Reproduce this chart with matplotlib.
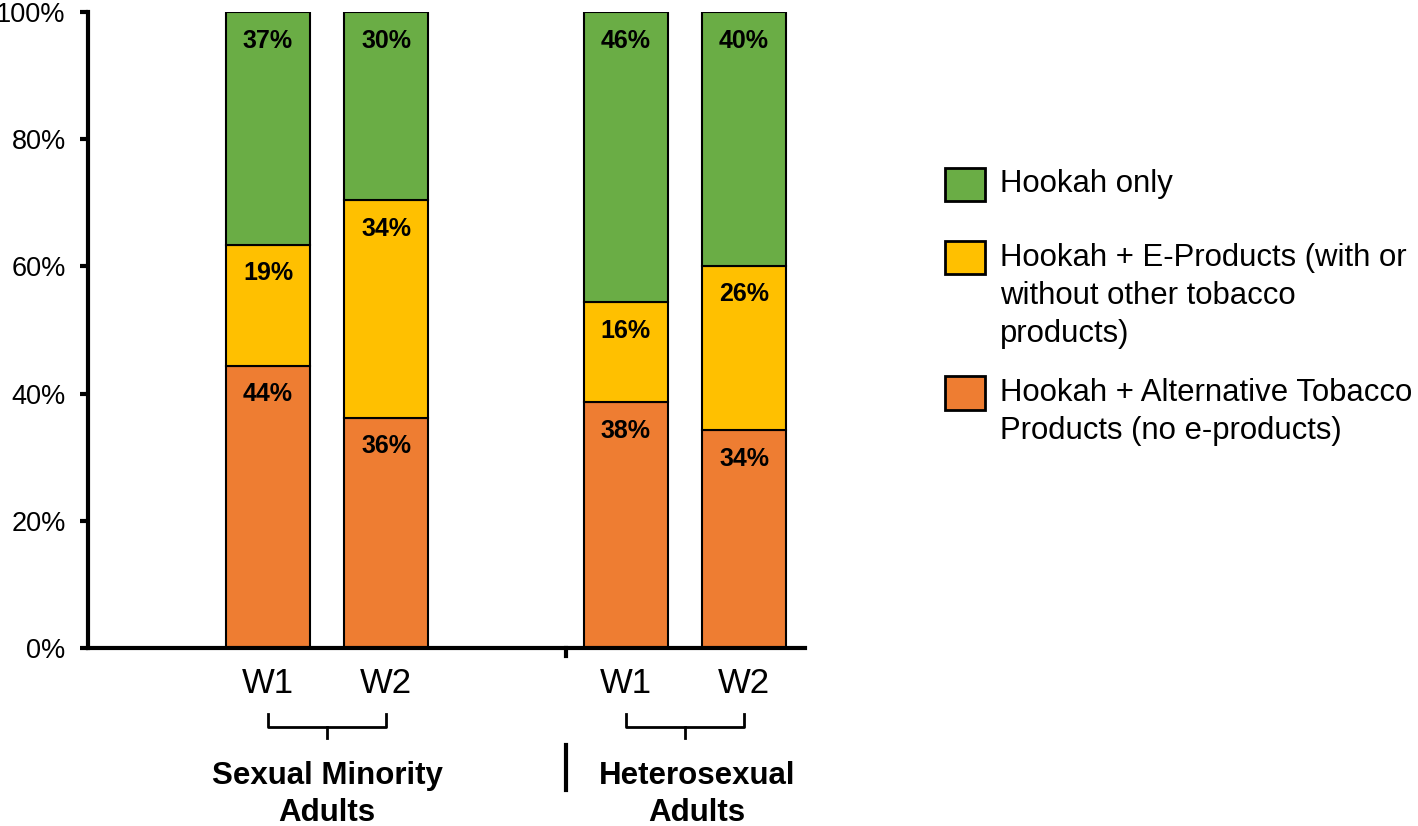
import numpy as np
import matplotlib
matplotlib.use('Agg')
import matplotlib.pyplot as plt
from matplotlib.patches import Rectangle
import matplotlib.transforms as mtransforms

plt.rcParams['font.family'] = ['Liberation Sans', 'DejaVu Sans']

# -----------------------------------------------------------------------
# Data (percent of hookah users, stacked bottom -> top)
# -----------------------------------------------------------------------
waves        = ["W1", "W2", "W1", "W2"]
groups       = ["Sexual Minority\nAdults", "Heterosexual\nAdults"]
alt_tobacco  = [44.4, 36.2, 38.6, 34.2]   # Hookah + Alternative Tobacco Products
e_products   = [19.0, 34.2, 15.8, 25.9]   # Hookah + E-Products
hookah_only  = [36.6, 29.6, 45.6, 39.9]   # Hookah only

alt_labels    = ["44%", "36%", "38%", "34%"]
eprod_labels  = ["19%", "34%", "16%", "26%"]
only_labels   = ["37%", "30%", "46%", "40%"]

legend_lines = [
    ["Hookah only"],
    ["Hookah + E-Products (with or", "without other tobacco", "products)"],
    ["Hookah + Alternative Tobacco", "Products (no e-products)"],
]

GREEN  = "#6AAD45"
YELLOW = "#FFC000"
ORANGE = "#EE7D32"

# -----------------------------------------------------------------------
# Plot
# -----------------------------------------------------------------------
fig = plt.figure(figsize=(14.18, 8.26), dpi=100)
ax = fig.add_axes([0.062, 0.2155, 0.506, 0.77])

x = np.array([0, 1, 3.03, 4.03])
width = 0.71

series = [(alt_tobacco, ORANGE, alt_labels),
          (e_products, YELLOW, eprod_labels),
          (hookah_only, GREEN, only_labels)]

bottom = np.zeros(len(x))
for vals, col, labs in series:
    vals = np.array(vals)
    ax.bar(x, vals, width, bottom=bottom, color=col,
           edgecolor="black", linewidth=1.5, zorder=2)
    for xi, b, v, lab in zip(x, bottom, vals, labs):
        ax.text(xi, b + v - 4.5, lab, ha="center", va="center",
                fontsize=18, fontweight="bold", color="black", zorder=3)
    bottom += vals

ax.set_xlim(-1.525, 4.55)
ax.set_ylim(0, 100)
ax.set_yticks(np.arange(0, 101, 20))
ax.set_yticklabels([f"{v}%" for v in range(0, 101, 20)], fontsize=19.5)
ax.set_xticks(x)
ax.set_xticklabels(waves, fontsize=25)
ax.tick_params(axis="x", length=0, pad=14)
ax.tick_params(axis="y", length=6, width=3, pad=10)

for side in ["top", "right"]:
    ax.spines[side].set_visible(False)
ax.spines["left"].set_linewidth(3)
ax.spines["bottom"].set_linewidth(3)

trans = mtransforms.blended_transform_factory(ax.transData, ax.transAxes)

# small tick on x-axis between groups
sep = 2.52
ax.plot([sep, sep], [0, -0.012], color="black", lw=3,
        transform=trans, clip_on=False)

# brackets under the wave labels
for g in range(2):
    x0, x1 = x[2 * g], x[2 * g + 1]
    mid = (x0 + x1) / 2
    ax.plot([x0, x0, x1, x1], [-0.104, -0.124, -0.124, -0.104],
            color="black", lw=2, transform=trans, clip_on=False)
    ax.plot([mid, mid], [-0.124, -0.1415], color="black", lw=2,
            transform=trans, clip_on=False)

# separator between group names
ax.plot([sep, sep], [-0.1525, -0.223], color="black", lw=3,
        transform=trans, clip_on=False)

group_x = [(x[0] + x[1]) / 2, (x[2] + x[3]) / 2 + 0.1]
for gx, name in zip(group_x, groups):
    ax.text(gx, -0.231, name, ha="center", va="center", fontsize=22.5,
            fontweight="bold", linespacing=1.3, transform=trans)

# -----------------------------------------------------------------------
# Legend (drawn by hand so the swatch lines up with the first text line)
# -----------------------------------------------------------------------
colors = [GREEN, YELLOW, ORANGE]
first_line_y = [0.777, 0.6877, 0.5242]
line_step = 38 / 826
for col, y0, lines in zip(colors, first_line_y, legend_lines):
    fig.patches.append(Rectangle((0.6664, y0 - 0.02), 0.0282, 0.04,
                                 facecolor=col, edgecolor="black", lw=2,
                                 transform=fig.transFigure))
    for i, line in enumerate(lines):
        fig.text(0.705, y0 - i * line_step, line, ha="left", va="center",
                 fontsize=22.4)

fig.savefig("out.png", dpi=100)
